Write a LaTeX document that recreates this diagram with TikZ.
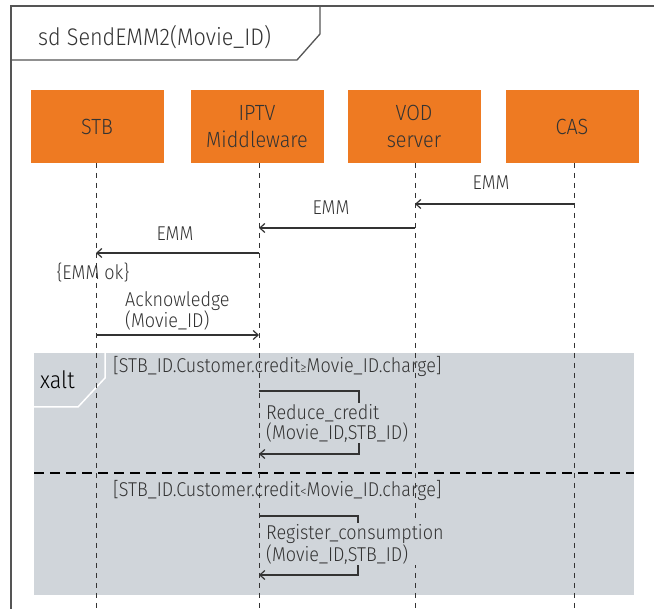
\documentclass[tikz,border=0pt]{standalone}
\usepackage{fontspec}
\setmainfont{Fira Sans}[UprightFont={* Light},FakeStretch=0.9]
\usetikzlibrary{arrows.meta}
\definecolor{boxorange}{HTML}{EE7A22}
\definecolor{altgray}{HTML}{D0D5DA}
\definecolor{ink}{HTML}{333333}
\definecolor{framegray}{HTML}{555555}
\begin{document}
\begin{tikzpicture}[x=1pt,y=-1pt,
 lifebox/.style={fill=boxorange, draw=none, minimum width=133pt, minimum height=73pt, inner sep=0pt, align=center, font=\fontsize{22}{27}\selectfont, text=ink},
 lifeline/.style={draw=ink, line width=1pt, dash pattern=on 5pt off 5pt},
 msg/.style={draw=ink, line width=1.2pt, -{Straight Barb[length=5pt,width=9pt]}},
 lbl/.style={font=\fontsize{20}{20}\selectfont, text=ink, inner sep=0pt, align=left},
 ]
\useasboundingbox (0,0) rectangle (654,609);
\fill[white] (0,0) rectangle (654,609);
% frame
\draw[framegray, line width=1.3pt] (654,6) -- (11,6) -- (11,609);
\draw[framegray, line width=1.3pt] (320,6) -- (320,34) -- (297,60) -- (11,60);
\node[anchor=west, font=\fontsize{24}{28}\selectfont, text=ink, inner sep=0pt] (title) at (38,37) {sd SendEMM2(Movie\_ID)};
% combined fragment
\fill[altgray] (34,353) rectangle (634,595);
\draw[white, line width=1.5pt] (105,353) -- (105,378) -- (78,407) -- (34,407);
\node[anchor=west, font=\fontsize{24}{28}\selectfont, text=black, inner sep=0pt] (xalt) at (40,380) {xalt};
\draw[black, line width=2pt, dash pattern=on 10pt off 6pt] (34,473) -- (634,473);
% lifeline heads
\node[lifebox] (stb) at (97,126.5) {STB};
\node[lifebox] (iptv) at (257,126.5) {IPTV\\Middleware};
\node[lifebox] (vod) at (414,126.5) {VOD\\server};
\node[lifebox] (cas) at (572,126.5) {CAS};
% lifelines
\coordinate (stbE) at (96,609);
\coordinate (iptvE) at (259,609);
\coordinate (vodE) at (415,609);
\coordinate (casE) at (574,609);
\draw[lifeline] (96,163) -- (stbE);
\draw[lifeline] (259,163) -- (iptvE);
\draw[lifeline] (415,163) -- (vodE);
\draw[lifeline] (574,163) -- (casE);
% messages
\coordinate (m1a) at (574,204); \coordinate (m1b) at (415,204);
\draw[msg] (m1a) -- (m1b);
\node[lbl] (l1) at (491,183) {EMM};
\coordinate (m2a) at (415,228); \coordinate (m2b) at (259,228);
\draw[msg] (m2a) -- (m2b);
\node[lbl] (l2) at (331,208) {EMM};
\coordinate (m3a) at (259,253); \coordinate (m3b) at (96,253);
\draw[msg] (m3a) -- (m3b);
\node[lbl] (l3) at (175,234) {EMM};
\node[lbl] (ok) at (93,273) {\{EMM ok\}};
\node[lbl, anchor=north west] (ack) at (125,291) {Acknowledge\\(Movie\_ID)};
\coordinate (m4a) at (96,335); \coordinate (m4b) at (259,335);
\draw[msg] (m4a) -- (m4b);
% alt operand 1
\node[lbl, anchor=west] (g1) at (113,366) {[STB\_ID.Customer.credit{\fontsize{14}{14}\selectfont ≥}Movie\_ID.charge]};
\coordinate (s1a) at (259,391); \coordinate (s1b) at (359,391);
\coordinate (s1c) at (359,454); \coordinate (s1d) at (259,454);
\draw[msg] (s1a) -- (s1b) -- (s1c) -- (s1d);
\node[lbl, anchor=north west, fill=altgray, inner ysep=1pt] (r1) at (266,403) {Reduce\_credit\\(Movie\_ID,STB\_ID)};
% alt operand 2
\node[lbl, anchor=west] (g2) at (113,490) {[STB\_ID.Customer.credit{\fontsize{14}{14}\selectfont <}Movie\_ID.charge]};
\coordinate (s2a) at (259,516); \coordinate (s2b) at (358,516);
\coordinate (s2c) at (358,575); \coordinate (s2d) at (259,575);
\draw[msg] (s2a) -- (s2b) -- (s2c) -- (s2d);
\node[lbl, anchor=north west, fill=altgray, inner ysep=1pt] (r2) at (266,523) {Register\_consumption\\(Movie\_ID,STB\_ID)};
\end{tikzpicture}
\end{document}
